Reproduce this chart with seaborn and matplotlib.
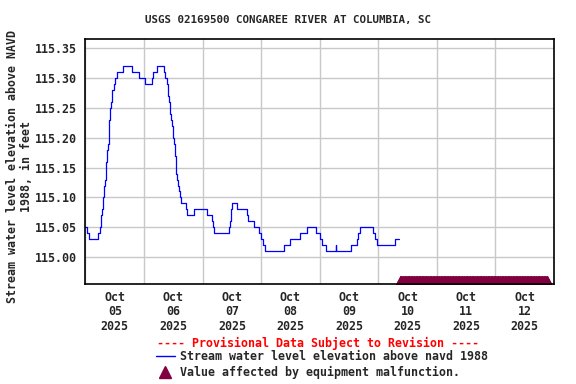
import matplotlib
matplotlib.use('Agg')
import matplotlib.pyplot as plt
import matplotlib.dates as mdates
from matplotlib.lines import Line2D
from matplotlib.ticker import FormatStrFormatter
import pandas as pd
import seaborn as sns

# Gage height readings, hours after 2025-10-05 00:00 where the value changes
hours = [0.0, 0.5, 1.25, 5.25, 5.75, 6.25, 6.5, 6.75, 7.0, 7.25, 7.5, 7.75, 8.0, 8.25,
         8.5, 8.75, 9.0, 9.25, 9.5, 9.75, 10.0, 10.25, 10.5, 10.75, 11.0, 11.5, 12.0,
         12.75, 15.5, 19.0, 21.75, 24.25, 27.25, 27.75, 29.5, 32.0, 32.75, 33.5, 33.75,
         34.0, 34.25, 34.5, 34.75, 35.0, 35.5, 35.75, 36.0, 36.25, 36.5, 36.75, 37.0,
         37.25, 37.5, 37.75, 38.25, 38.75, 39.0, 41.0, 41.75, 44.5, 50.0, 51.75, 52.25,
         52.75, 58.75, 59.25, 59.5, 59.75, 60.0, 62.25, 66.0, 66.5, 69.25, 71.0, 72.0,
         72.75, 73.5, 81.25, 83.75, 87.75, 90.75, 94.5, 96.0, 97.0, 98.75, 102.5, 102.75,
         109.0, 111.25, 111.75, 112.5, 118.0, 118.75, 119.5, 127.0, 128.5]
levels = [115.05, 115.04, 115.03, 115.04, 115.05, 115.06, 115.07, 115.08, 115.09, 115.10,
          115.11, 115.12, 115.13, 115.14, 115.16, 115.17, 115.18, 115.19, 115.21, 115.23,
          115.24, 115.25, 115.26, 115.27, 115.28, 115.29, 115.30, 115.31, 115.32, 115.31,
          115.30, 115.29, 115.30, 115.31, 115.32, 115.31, 115.30, 115.29, 115.28, 115.27,
          115.26, 115.25, 115.24, 115.23, 115.22, 115.21, 115.20, 115.19, 115.18, 115.17,
          115.15, 115.14, 115.13, 115.12, 115.11, 115.10, 115.09, 115.08, 115.07, 115.08,
          115.07, 115.06, 115.05, 115.04, 115.05, 115.06, 115.07, 115.08, 115.09, 115.08,
          115.07, 115.06, 115.05, 115.04, 115.03, 115.02, 115.01, 115.02, 115.03, 115.04,
          115.05, 115.04, 115.03, 115.02, 115.01, 115.02, 115.01, 115.02, 115.03, 115.04,
          115.05, 115.04, 115.03, 115.02, 115.03, 115.03]

# equipment malfunction period (hours after start), flagged every 15 minutes
malfunction_start = 128.75
malfunction_end = 189.25

start = pd.Timestamp('2025-10-05')
df = pd.DataFrame({'time': start + pd.to_timedelta(hours, unit='h'), 'level': levels})
flag_times = pd.date_range(start + pd.Timedelta(hours=malfunction_start),
                           start + pd.Timedelta(hours=malfunction_end), freq='15min')

sns.set_style('white')
plt.rcParams['font.family'] = ['DejaVu Sans Mono']
plt.rcParams['font.weight'] = 'bold'

fig = plt.figure(figsize=(5.76, 3.84), dpi=100)
ax = fig.add_axes([0.1484, 0.2604, 0.8134, 0.6373])

sns.lineplot(data=df, x='time', y='level', ax=ax, color='#0000FF', linewidth=0.9,
             drawstyle='steps-post', estimator=None)

ax.set_xlim(start, start + pd.Timedelta(days=8))
ax.set_ylim(114.955, 115.365)

tri = [(-1, 0), (1, 0), (0, 1.9)]
ybase = ax.get_ylim()[0]
ax.plot(flag_times, [ybase] * len(flag_times), linestyle='none', marker=tri,
        markersize=12, color='#800040', markeredgewidth=0.6, markeredgecolor='#800040',
        antialiased=False)

ax.set_yticks([115.00, 115.05, 115.10, 115.15, 115.20, 115.25, 115.30, 115.35])
ax.yaxis.set_major_formatter(FormatStrFormatter('%.2f'))
ax.xaxis.set_major_locator(mdates.HourLocator(byhour=12))
ax.xaxis.set_major_formatter(mdates.DateFormatter('%b\n%d\n%Y'))
ax.xaxis.set_minor_locator(mdates.DayLocator())

ax.grid(False)
ax.grid(True, axis='y', which='major', color='#C8C8C8', linewidth=1.0)
ax.grid(True, axis='x', which='minor', color='#C8C8C8', linewidth=1.0)
ax.set_axisbelow(True)
ax.tick_params(axis='both', which='both', length=0, labelsize=8.4)
ax.tick_params(axis='x', pad=5)
ax.tick_params(axis='y', pad=6)
for lbl in ax.get_xticklabels():
    lbl.set_linespacing(1.15)
    lbl.set_fontweight('bold')
for lbl in ax.get_yticklabels():
    lbl.set_fontweight('bold')
for sp in ax.spines.values():
    sp.set_color('black')
    sp.set_linewidth(1.2)

ax.set_xlabel('')
ax.set_ylabel('Stream water level elevation above NAVD\n1988, in feet',
              fontsize=8.4, fontweight='bold', linespacing=1.15)
ax.yaxis.set_label_coords(-0.112, 0.48)

fig.text(0.5, 1 - 20.5 / 384, 'USGS 02169500 CONGAREE RIVER AT COLUMBIA, SC',
         ha='center', va='center', fontsize=7.8, fontweight='bold')
fig.text(318 / 576, 1 - 343 / 384, '---- Provisional Data Subject to Revision ----',
         ha='center', va='center', fontsize=8.4, fontweight='bold', color='red')

handles = [Line2D([], [], color='#0000FF', linewidth=1.0),
           Line2D([], [], linestyle='none', marker='^', markersize=8, color='#800040')]
fig.legend(handles, ['Stream water level elevation above navd 1988',
                     'Value affected by equipment malfunction.'],
           loc='upper left', bbox_to_anchor=(156 / 576, 1 - 350 / 384), frameon=False,
           prop={'size': 8.4, 'weight': 'bold'}, handlelength=1.6, handletextpad=0.5,
           labelspacing=0.28, borderpad=0, borderaxespad=0)

fig.savefig('out.png', dpi=100)
